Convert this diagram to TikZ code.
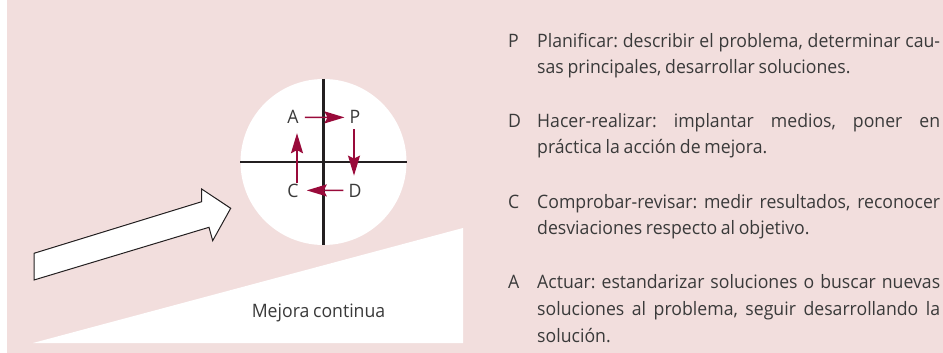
\documentclass[tikz,border=0pt]{standalone}
\usepackage{fontspec}
\setmainfont{Open Sans}[FakeStretch=0.955, WordSpace=0.8]
\frenchspacing
\usetikzlibrary{arrows.meta}
\definecolor{bgpink}{HTML}{F2DEDD}
\definecolor{txt}{HTML}{3A3A3A}
\definecolor{cred}{HTML}{990A3A}
\definecolor{crossc}{HTML}{231F20}
\tikzset{
  lbl/.style={font=\fontsize{18.5}{20}\selectfont\frenchspacing, text=txt, inner sep=0pt},
  body/.style={lbl, anchor=base west},
  cyc/.style={draw=cred, line width=1.5pt, -{Stealth[length=20pt,width=12pt,inset=3pt]}},
  crossline/.style={draw=crossc, line width=2.5pt},
  bigarrow/.style={draw=crossc, fill=white, line width=1pt, line join=miter},
}
\begin{document}
\begin{tikzpicture}[x=1pt,y=-1pt]
\useasboundingbox (0,0) rectangle (943,353);
% background
\fill[bgpink] (7,0) rectangle (943,353);
% wedge
\fill[white] (33,343) -- (463,228) -- (463,343) -- cycle;
\node[lbl, anchor=base] (mc) at (318.5,317) {Mejora continua};
% disc with cross
\node[circle, fill=white, minimum size=166pt, inner sep=0pt] (disc) at (323.5,162) {};
\draw[crossline] (disc.north) -- (disc.south);
\draw[crossline] (disc.west) -- (disc.east);
% letters
\node[lbl, anchor=base] (nA) at (293,124) {A};
\node[lbl, anchor=base] (nP) at (355,124) {P};
\node[lbl, anchor=base] (nC) at (293,197) {C};
\node[lbl, anchor=base] (nD) at (355,197) {D};
\draw[cyc, shorten <=6pt, shorten >=5pt] (nA) -- (nP);
\draw[cyc, shorten <=5pt, shorten >=8pt] ([xshift=-1pt]nP.south) -- ([xshift=-1pt]nD.north);
\draw[cyc, shorten <=5pt, shorten >=8pt] (nD) -- (nC);
\draw[cyc, shorten <=0pt, shorten >=9pt] ([xshift=4pt]nC.north) -- ([xshift=4pt]nA.south);
% big arrow
\draw[bigarrow] (34,253.3) -- (201.7,201.7) -- (201.7,189) -- (230.7,208.3) -- (212.7,240.7) -- (209,227.3) -- (34,280) -- cycle;
% legend
\node[body] (lP) at (508,48) {P};
\node[body] (tP1) at (537,48) {\makebox[403pt][s]{Planificar: describir el problema, determinar cau-}};
\node[body] (tP2) at (537,74) {sas principales, desarrollar soluciones.};
\node[body] (lD) at (508,127) {D};
\node[body] (tD1) at (537,127) {\makebox[403pt][s]{Hacer-realizar: implantar medios, poner en}};
\node[body] (tD2) at (537,153) {práctica la acción de mejora.};
\node[body] (lC) at (508,208) {C};
\node[body] (tC1) at (537,208) {\makebox[403pt][s]{Comprobar-revisar: medir resultados, reconocer}};
\node[body] (tC2) at (537,234) {desviaciones respecto al objetivo.};
\node[body] (lA) at (508,288) {A};
\node[body] (tA1) at (537,288) {\makebox[403pt][s]{Actuar: estandarizar soluciones o buscar nuevas}};
\node[body] (tA2) at (537,315) {\makebox[403pt][s]{soluciones al problema, seguir desarrollando la}};
\node[body] (tA3) at (537,342) {solución.};
\end{tikzpicture}
\end{document}
